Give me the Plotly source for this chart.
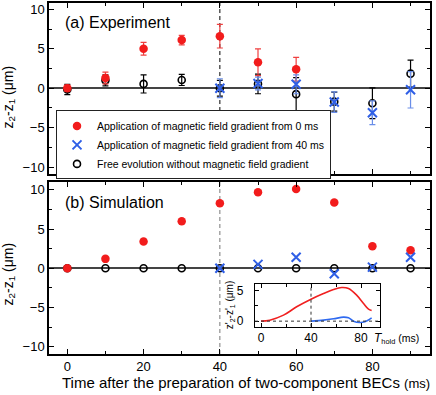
import plotly.graph_objects as go

# ---------------- data ----------------
t_exp = [0, 10, 20, 30, 40, 50, 60]
red_exp = [0.0, 1.3, 5.0, 6.1, 6.6, 3.3, 2.4]
red_exp_err = [0.4, 0.75, 0.8, 0.6, 1.5, 1.7, 1.5]

t_blue = [40, 50, 60, 70, 80, 90]
blue_exp = [0.0, 0.6, 0.5, -1.75, -3.1, -0.2]
blue_exp_err = [1.2, 0.8, 1.2, 1.3, 1.5, 2.3]

t_black = [0, 10, 20, 30, 40, 50, 60, 70, 80, 90]
black_exp = [-0.15, 1.0, 0.55, 1.05, 0.0, 0.55, -0.75, -1.7, -1.9, 1.85]
black_exp_err = [0.65, 0.7, 1.15, 0.7, 1.0, 1.25, 2.1, 1.2, 1.95, 1.7]

t_sim = [0, 10, 20, 30, 40, 50, 60, 70, 80, 90]
red_sim = [0.0, 1.2, 3.4, 6.0, 8.3, 9.7, 10.1, 8.4, 2.8, 2.3]
t_sim_b = [40, 50, 60, 70, 80, 90]
blue_sim = [0.0, 0.5, 1.4, -0.7, 0.15, 1.4]
black_sim = [0, 0, 0, 0, 0, 0, 0, 0, 0, 0]

t_in_red = [0, 7, 18, 28.5, 40, 50, 58, 64.5, 70, 76.5, 82, 86, 88.5]
red_in = [0.0, 0.16, 0.98, 2.34, 3.58, 4.5, 5.16, 5.49, 5.33, 4.24, 2.88, 1.95, 1.72]
t_in_blue = [40, 50, 58, 66, 70, 74, 79, 83, 88.5]
blue_in = [0.0, 0.16, 0.38, 0.65, 0.54, 0.0, -0.22, -0.11, 0.54]

RED = "#f21c1c"
RED_E = "#f04040"
BLUE = "#2f5fe6"
BLUE_E = "#6a8ee8"
FONT = "Arial, Liberation Sans, sans-serif"

fig = go.Figure()

# ---- panel (a) ----
fig.add_trace(go.Scatter(x=t_black, y=black_exp, mode="markers", xaxis="x", yaxis="y",
    name="Free evolution without magnetic field gradient", legendrank=3,
    marker=dict(symbol="circle-open", size=7, color="black", line=dict(width=1.6, color="black")),
    error_y=dict(type="data", array=black_exp_err, color="black", thickness=1.2, width=3)))
fig.add_trace(go.Scatter(x=t_exp, y=red_exp, mode="markers", xaxis="x", yaxis="y",
    name="Application of magnetic field gradient from 0 ms", legendrank=1,
    marker=dict(symbol="circle", size=8.5, color=RED),
    error_y=dict(type="data", array=red_exp_err, color=RED_E, thickness=1.2, width=3)))
fig.add_trace(go.Scatter(x=t_blue, y=blue_exp, mode="markers", xaxis="x", yaxis="y",
    name="Application of magnetic field gradient from 40 ms", legendrank=2,
    marker=dict(symbol="x-thin-open", size=9, color=BLUE, line=dict(width=2, color=BLUE)),
    error_y=dict(type="data", array=blue_exp_err, color=BLUE_E, thickness=1.2, width=3)))

# ---- panel (b) ----
fig.add_trace(go.Scatter(x=t_sim, y=black_sim, mode="markers", xaxis="x2", yaxis="y2", showlegend=False,
    marker=dict(symbol="circle-open", size=7, color="black", line=dict(width=1.6, color="black"))))
fig.add_trace(go.Scatter(x=t_sim, y=red_sim, mode="markers", xaxis="x2", yaxis="y2", showlegend=False,
    marker=dict(symbol="circle", size=8.5, color=RED)))
fig.add_trace(go.Scatter(x=t_sim_b, y=blue_sim, mode="markers", xaxis="x2", yaxis="y2", showlegend=False,
    marker=dict(symbol="x-thin-open", size=9, color=BLUE, line=dict(width=2, color=BLUE))))

# ---- inset ----
fig.add_trace(go.Scatter(x=t_in_red, y=red_in, mode="lines", xaxis="x3", yaxis="y3", showlegend=False,
    line=dict(color="#f02020", width=1.6, shape="spline", smoothing=1.0)))
fig.add_trace(go.Scatter(x=t_in_blue, y=blue_in, mode="lines", xaxis="x3", yaxis="y3", showlegend=False,
    line=dict(color="#2f6af0", width=1.6, shape="spline", smoothing=1.0)))

ax_common = dict(showline=True, linecolor="black", linewidth=1.5, mirror="allticks",
                 ticks="inside", ticklen=5, tickwidth=1.2, tickcolor="black",
                 showgrid=False, tickfont=dict(family=FONT, size=13, color="black"))
minor = dict(ticks="inside", ticklen=3, tickwidth=1.2, tickcolor="black", showgrid=False)

fig.update_layout(
    width=436, height=395,
    margin=dict(l=49, r=6, t=1, b=41),
    paper_bgcolor="white", plot_bgcolor="white",
    font=dict(family=FONT, color="black"),
    showlegend=True,
    legend=dict(x=0.0184, y=(354 - 109) / 353, xanchor="left", yanchor="top",
                bordercolor="#222", borderwidth=1, bgcolor="white",
                font=dict(family=FONT, size=10.5, color="black"),
                itemwidth=30, tracegroupgap=0),
    xaxis=dict(**ax_common, domain=[0, 1], anchor="y", range=[-4.8, 95.1],
               tickvals=[0, 20, 40, 60, 80], showticklabels=False,
               minor=dict(**minor, dtick=10, tick0=0), zeroline=False),
    yaxis=dict(**ax_common, domain=[0.5127, 1], anchor="x", range=[-10.87, 10.8],
               tickvals=[-10, -5, 0, 5, 10], minor=dict(**minor, dtick=2.5, tick0=0),
               zeroline=True, zerolinecolor="#444", zerolinewidth=1.5),
    xaxis2=dict(**ax_common, domain=[0, 1], anchor="y2", range=[-4.8, 95.1],
                tickvals=[0, 20, 40, 60, 80], minor=dict(**minor, dtick=10, tick0=0), zeroline=False),
    yaxis2=dict(**ax_common, domain=[0, 0.490], anchor="x2", range=[-10.93, 11.0],
                tickvals=[-10, -5, 0, 5, 10], minor=dict(**minor, dtick=2.5, tick0=0),
                zeroline=True, zerolinecolor="#444", zerolinewidth=1.5),
    xaxis3=dict(showline=True, linecolor="black", linewidth=1.2, mirror="allticks",
                ticks="inside", ticklen=4, tickwidth=1, tickcolor="black", showgrid=False,
                tickfont=dict(family=FONT, size=12, color="black"),
                domain=[0.5407, 0.8688], anchor="y3", range=[-4.8, 95.2],
                tickvals=[0, 40, 80], minor=dict(ticks="inside", ticklen=3, tickcolor="black", dtick=20, tick0=0),
                zeroline=False),
    yaxis3=dict(showline=True, linecolor="black", linewidth=1.2, mirror="allticks",
                ticks="inside", ticklen=4, tickwidth=1, tickcolor="black", showgrid=False,
                tickfont=dict(family=FONT, size=12, color="black"), ticklabelstandoff=8,
                domain=[0.0779, 0.1983], anchor="x3", range=[-0.9, 6.0],
                tickvals=[0, 5], minor=dict(ticks="inside", ticklen=3, tickcolor="black", dtick=2.5, tick0=0),
                zeroline=False),
)

shapes = [
    dict(type="line", xref="x", yref="y domain", x0=40, x1=40, y0=0, y1=1,
         line=dict(color="black", width=1, dash="4px,3px"), layer="below"),
    dict(type="line", xref="x2", yref="y2 domain", x0=40, x1=40, y0=0, y1=1,
         line=dict(color="#777", width=1, dash="4px,3px"), layer="below"),
    dict(type="rect", xref="x3 domain", yref="y3 domain", x0=0, x1=1, y0=0, y1=1,
         fillcolor="white", line=dict(width=0), layer="below"),
    dict(type="line", xref="x3 domain", yref="y3", x0=0, x1=1, y0=0, y1=0,
         line=dict(color="#333", width=1, dash="dot"), layer="above"),
    dict(type="line", xref="x3", yref="y3 domain", x0=40, x1=40, y0=0, y1=1,
         line=dict(color="#333", width=1, dash="dot"), layer="above"),
]
fig.update_layout(shapes=shapes)

ann = [
    dict(text="(a) Experiment", xref="paper", yref="paper", x=0.037, y=(354 - 20.5) / 353,
         xanchor="left", yanchor="middle", showarrow=False, font=dict(family=FONT, size=16)),
    dict(text="(b) Simulation", xref="paper", yref="paper", x=0.037, y=(354 - 201.5) / 353,
         xanchor="left", yanchor="middle", showarrow=False, font=dict(family=FONT, size=16)),
    dict(text="z<sub>2</sub>-z<sub>1</sub> (μm)", xref="paper", yref="paper", x=(9 - 49) / 381,
         y=(354 - 96) / 353, xanchor="center", yanchor="middle", textangle=-90, showarrow=False,
         font=dict(family=FONT, size=14)),
    dict(text="z<sub>2</sub>-z<sub>1</sub> (μm)", xref="paper", yref="paper", x=(9 - 49) / 381,
         y=(354 - 274) / 353, xanchor="center", yanchor="middle", textangle=-90, showarrow=False,
         font=dict(family=FONT, size=14)),
    dict(text="Time after the preparation of two-component BECs <span style='font-size:13px'>(ms)</span>",
         xref="paper", yref="paper", x=(245.5 - 49) / 381, y=(354 - 383) / 353,
         xanchor="center", yanchor="middle", showarrow=False, font=dict(family=FONT, size=15)),
    dict(text="<span style='font-size:12px'><i>T</i></span><sub>hold</sub> (ms)", xref="paper", yref="paper",
         x=(372 - 49) / 381, y=(354 - 338) / 353, xanchor="left", yanchor="middle", showarrow=False,
         font=dict(family=FONT, size=10.5)),
    dict(text="z'<sub>2</sub>-z'<sub>1</sub> (μm)", xref="paper", yref="paper", x=(230 - 49) / 381,
         y=(354 - 305) / 353, xanchor="center", yanchor="middle", textangle=-90, showarrow=False,
         font=dict(family=FONT, size=10)),
]
fig.update_layout(annotations=ann)

fig.write_html("out.html", config={"displayModeBar": False},
               post_script="document.body.style.margin='0';document.body.style.padding='0';")
